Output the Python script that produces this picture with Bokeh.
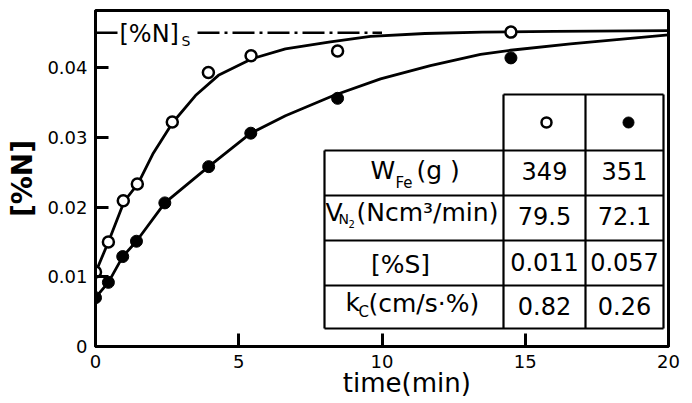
import math
from bokeh.plotting import figure
from bokeh.models import FixedTicker, Range1d
from bokeh.embed import file_html
from bokeh.resources import INLINE
from bokeh.core.properties import value

# ---------------- data ----------------
# open circles (run 1) and filled circles (run 2): time (min), [%N]
t_open = [0.0, 0.45, 0.97, 1.46, 2.68, 3.94, 5.43, 8.45, 14.5]
n_open = [0.0107, 0.0150, 0.0209, 0.0233, 0.0322, 0.0393, 0.0417, 0.0424, 0.0451]
t_fill = [0.0, 0.45, 0.95, 1.43, 2.42, 3.95, 5.42, 8.45, 14.5]
n_fill = [0.0070, 0.0092, 0.0129, 0.0151, 0.0206, 0.0258, 0.0306, 0.0356, 0.0414]

# drawn fit curves
fit_open_t = [0.0, 0.45, 1.0, 1.49, 2.0, 2.69, 3.49, 4.29, 5.48, 6.63, 8.2, 9.6, 11.5, 13.5, 16.0, 20.0]
fit_open_n = [0.0106, 0.0150, 0.0208, 0.0234, 0.0276, 0.0321, 0.0360, 0.0389, 0.0413, 0.0427,
              0.0437, 0.0445, 0.0449, 0.0451, 0.0452, 0.0453]
fit_fill_t = [0.0, 0.45, 0.95, 1.43, 2.42, 3.95, 5.42, 6.63, 8.31, 9.95, 11.69, 13.44, 14.49, 16.58, 20.0]
fit_fill_n = [0.0070, 0.0092, 0.0129, 0.0151, 0.0206, 0.0258, 0.0306, 0.0331, 0.0360, 0.0384,
              0.0403, 0.0419, 0.0425, 0.0434, 0.0447]

n_sat = 0.045  # [%N]s

x_ticks = [0, 5, 10, 15, 20]
y_ticks = [0, 0.01, 0.02, 0.03, 0.04]
y_tick_labels = ["0", "0.01", "0.02", "0.03", "0.04"]

# table values
vals_open = ["349", "79.5", "0.011", "0.82"]
vals_fill = ["351", "72.1", "0.057", "0.26"]

# ---------------- layout ----------------
FONT = value("DejaVu Sans")
XMAX, YMAX = 20.0, 0.0482
FX0, FX1, FY0, FY1 = 95.0, 668.0, 10.0, 346.0   # frame edges in pixels


def X(px):
    return (px - FX0) / (FX1 - FX0) * XMAX


def Y(py):
    return (FY1 - py) / (FY1 - FY0) * YMAX


p = figure(width=692, height=403, x_range=Range1d(0, XMAX), y_range=Range1d(0, YMAX),
           output_backend="svg", toolbar_location=None,
           min_border_left=95, min_border_right=24, min_border_top=10, min_border_bottom=57)
p.background_fill_color = "white"
p.border_fill_color = "white"
p.xgrid.visible = False
p.ygrid.visible = False
p.outline_line_color = "black"
p.outline_line_width = 3

for ax in (p.xaxis[0], p.yaxis[0]):
    ax.axis_line_width = 3
    ax.axis_line_color = "black"
    ax.major_tick_in = 13
    ax.major_tick_out = 0
    ax.major_tick_line_width = 3
    ax.major_tick_line_color = "black"
    ax.minor_tick_line_color = None
    ax.major_label_text_font = "DejaVu Sans"
    ax.major_label_text_font_size = "18px"
    ax.major_label_text_color = "black"
    ax.major_label_standoff = 8
    ax.axis_label_text_font = "DejaVu Sans"
    ax.axis_label_text_color = "black"
    ax.axis_label_text_font_style = "normal"

p.xaxis.ticker = FixedTicker(ticks=x_ticks)
p.yaxis.ticker = FixedTicker(ticks=y_ticks)
p.yaxis.major_label_overrides = {t: s for t, s in zip(y_ticks, y_tick_labels)}

p.xaxis.axis_label = "\u00a0" * 6 + "time(min)"
p.xaxis.axis_label_text_font_size = "26px"
p.xaxis.axis_label_standoff = -3
p.yaxis.axis_label = "[%N]"
p.yaxis.axis_label_text_font_size = "28px"
p.yaxis.axis_label_text_font_style = "bold"
p.yaxis.axis_label_standoff = 5

# saturation line [%N]s
p.line([0, X(117)], [n_sat, n_sat], line_color="black", line_width=2.5)
p.line([X(197), 10], [n_sat, n_sat], line_color="black", line_width=2.5, line_dash="22 5 3 5")


def txt(x_px, y_px, s, size, align="left", style="normal"):
    p.text(x=[X(x_px)], y=[Y(y_px)], text=[s], text_font=FONT,
           text_font_size=f"{size}px", text_align=align, text_baseline="middle",
           text_color="black", text_font_style=style)


txt(119, 33, "[%N]", 24)
txt(181, 40, "S", 14)

# fit curves
p.line(fit_open_t, fit_open_n, line_color="black", line_width=2.8)
p.line(fit_fill_t, fit_fill_n, line_color="black", line_width=2.8)

# data points
p.scatter(t_open, n_open, size=11, marker="circle", fill_color="white",
          line_color="black", line_width=2.5)
p.scatter(t_fill, n_fill, size=12, marker="circle", fill_color="black",
          line_color="black", line_width=1)

# ---------------- table ----------------
cols = [324, 503, 585, 663]
rows = [94, 150, 195, 240, 285, 328]
x0s, y0s, x1s, y1s = [], [], [], []
x0s.append(X(cols[1])); y0s.append(Y(rows[0])); x1s.append(X(cols[3])); y1s.append(Y(rows[0]))
for r in rows[1:]:
    x0s.append(X(cols[0])); y0s.append(Y(r)); x1s.append(X(cols[3])); y1s.append(Y(r))
x0s.append(X(cols[0])); y0s.append(Y(rows[1])); x1s.append(X(cols[0])); y1s.append(Y(rows[-1]))
for c in cols[1:]:
    x0s.append(X(c)); y0s.append(Y(rows[0])); x1s.append(X(c)); y1s.append(Y(rows[-1]))
p.segment(x0=x0s, y0=y0s, x1=x1s, y1=y1s, line_color="black", line_width=2.2)

# header markers
p.scatter([X(546)], [Y(122)], size=10, marker="circle", fill_color="white",
          line_color="black", line_width=2.5)
p.scatter([X(628)], [Y(122)], size=11, marker="circle", fill_color="black",
          line_color="black")

# row labels
txt(370, 170, "W", 25)
txt(395, 182, "Fe", 15)
txt(416, 170, "(g )", 25)

txt(325, 212, "V", 25)
txt(338, 218, "N", 14)
txt(348, 223, "2", 10)
txt(356, 212, "(Ncm\u00b3/min)", 25)

txt(400, 264, "[%S]", 25, align="center")

txt(345, 302, "k", 25)
txt(358, 311, "C", 15)
txt(368, 303, "(cm/s\u00b7%)", 25)

row_y = [170, 215, 261, 305]
for v, y in zip(vals_open, row_y):
    txt(544, y, v, 24, align="center")
for v, y in zip(vals_fill, row_y):
    txt(624, y, v, 24, align="center")

open("out.html", "w").write(file_html(p, INLINE))
